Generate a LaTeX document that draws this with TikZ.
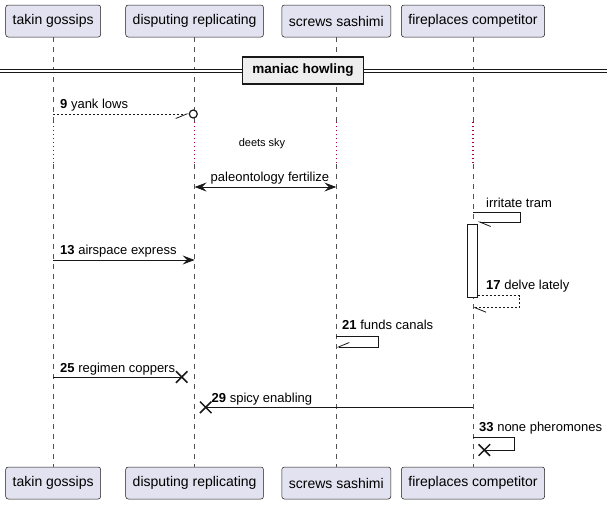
\documentclass[tikz,border=0pt]{standalone}
\usepackage{fontspec}
\setmainfont{Liberation Sans}
\usepackage{tikz}
\usetikzlibrary{arrows.meta, shapes.misc}
\definecolor{partfill}{RGB}{226,226,240}
\definecolor{partline}{RGB}{24,24,24}
\definecolor{delaydot}{RGB}{168,0,54}
\definecolor{divfill}{RGB}{238,238,238}
\tikzset{
    every node/.style={font=\fontsize{13}{15}\selectfont},
    participant/.style={draw=partline, line width=0.5pt, fill=partfill, rounded corners=2.5pt,
        minimum height=32pt, inner xsep=7pt, inner ysep=0pt, font=\fontsize{14}{16}\selectfont},
    msglabel/.style={anchor=west, inner sep=0pt},
    crossmark/.style={cross out, draw=partline, line width=1.5pt, minimum size=10pt, inner sep=0pt},
    fullhead/.tip={Stealth[length=12pt, width=9pt, inset=4.5pt]},
    halfhead/.tip={Straight Barb[length=11pt, width=9pt, harpoon]},
    halfheadr/.tip={Straight Barb[length=11pt, width=9pt, harpoon, swap]}
}

\begin{document}
\begin{tikzpicture}[
            x = 1pt, y = -1pt, % one unit per pixel, y going down
            lifeline/.style = {draw=partline!75, line width=0.5pt, dash pattern=on 5pt off 5pt},
            delayline/.style = {draw=delaydot, line width=1.3pt, dash pattern=on 1.3pt off 2.7pt},
            msg/.style = {draw=partline, line width=0.8pt}, % message line
            reply/.style = {msg, dash pattern=on 2pt off 2pt}
        ]

        \tikzstyle{divider}=[
            draw = partline,
            line width = 1.5pt,
            fill = divfill,
            minimum width = 121pt,
            minimum height = 27pt,
            font = \bfseries\fontsize{13.5}{15}\selectfont
        ]

        \useasboundingbox (0,0) rectangle (613,504);

        % participants
        \node[participant] (tk) at (53.2,21) {takin gossips};
        \node[participant] (dr) at (194.6,21) {disputing replicating};
        \node[participant] (ss) at (336.3,21) {screws sashimi};
        \node[participant] (fc) at (473,21) {fireplaces competitor};
        \node[participant] (tk-b) at (53.2,483) {takin gossips};
        \node[participant] (dr-b) at (194.6,483) {disputing replicating};
        \node[participant] (ss-b) at (336.3,483) {screws sashimi};
        \node[participant] (fc-b) at (473,483) {fireplaces competitor};

        % lifelines, dotted through the delay
        \coordinate (dtop) at (0,122);
        \coordinate (dbot) at (0,164);
        \foreach \p in {tk,dr,ss,fc} {
            \draw[lifeline] (\p.south) -- (\p.south |- dtop);
            \draw[delayline] (\p.south |- dtop) -- (\p.south |- dbot);
            \draw[lifeline] (\p.south |- dbot) -- (\p-b.north);
        }

        % divider
        \coordinate (divL) at (0,70.5);
        \coordinate (divR) at (607,70.5);
        \draw[draw=partline, line width=1pt, double=white, double distance=2pt] (divL) -- (divR);
        \node[divider] (dv) at (303,70.5) {maniac howling};

        % 9
        \coordinate (m9a) at (53.2,114);
        \node[circle, draw=partline, line width=1.2pt, fill=white, minimum size=8pt, inner sep=0pt] (m9o) at (193.3,114) {};
        \draw[reply, -{halfheadr}] (m9a) -- (m9o.west);
        \node[msglabel] (t9) at (60,105) {\textbf{9} yank lows};

        % delay
        \node[font=\fontsize{11}{13}\selectfont] (dl) at (262,144) {deets sky};

        % paleontology fertilize
        \coordinate (mpa) at (194.6,187);
        \coordinate (mpb) at (336.3,187);
        \draw[msg, {fullhead}-{fullhead}] (mpa) -- (mpb);
        \node[msglabel, anchor=center] (tp) at (270,178) {paleontology fertilize};

        % irritate tram, then activation
        \coordinate (i1) at (473,212);
        \coordinate (i2) at (520,212);
        \coordinate (i3) at (520,222);
        \coordinate (i4) at (477.7,222);
        \draw[msg, -{halfhead}] (i1) -- (i2) -- (i3) -- (i4);
        \node[msglabel] (ti) at (486,203) {irritate tram};
        \node[draw=partline, line width=0.5pt, fill=white, minimum width=10.4pt,
            minimum height=73pt, inner sep=0pt] (act) at (472.5,260.5) {};

        % 13
        \coordinate (m13a) at (53.2,260);
        \coordinate (m13b) at (194.6,260);
        \draw[msg, -{fullhead}] (m13a) -- (m13b);
        \node[msglabel] (t13) at (60,251) {\textbf{13} airspace express};

        % 17
        \coordinate (d1) at (477.7,295.5);
        \coordinate (d2) at (519.3,295.5);
        \coordinate (d3) at (519.3,307.7);
        \coordinate (d4) at (473,307.7);
        \draw[reply, -{halfhead}] (d1) -- (d2) -- (d3) -- (d4);
        \node[msglabel] (t17) at (486,286.5) {\textbf{17} delve lately};

        % 21
        \coordinate (f1) at (336.3,336);
        \coordinate (f2) at (378.3,336);
        \coordinate (f3) at (378.3,347);
        \coordinate (f4) at (336.3,347);
        \draw[msg, -{halfheadr}] (f1) -- (f2) -- (f3) -- (f4);
        \node[msglabel] (t21) at (342,325) {\textbf{21} funds canals};

        % 25
        \coordinate (m25a) at (53.2,377);
        \node[crossmark] (x25) at (181.7,377) {};
        \draw[msg] (m25a) -- (x25.center);
        \node[msglabel] (t25) at (60,369.5) {\textbf{25} regimen coppers};

        % 29
        \coordinate (m29a) at (473,407.3);
        \node[crossmark] (x29) at (205.7,407.3) {};
        \draw[msg] (m29a) -- (x29.center);
        \node[msglabel] (t29) at (211.5,399) {\textbf{29} spicy enabling};

        % 33
        \coordinate (n1) at (473,437.7);
        \coordinate (n2) at (514.3,437.7);
        \coordinate (n3) at (514.3,450);
        \node[crossmark] (x33) at (484.3,450) {};
        \draw[msg] (n1) -- (n2) -- (n3) -- (x33.center);
        \node[msglabel] (t33) at (479,428) {\textbf{33} none pheromones};

  \end{tikzpicture}
\end{document}
